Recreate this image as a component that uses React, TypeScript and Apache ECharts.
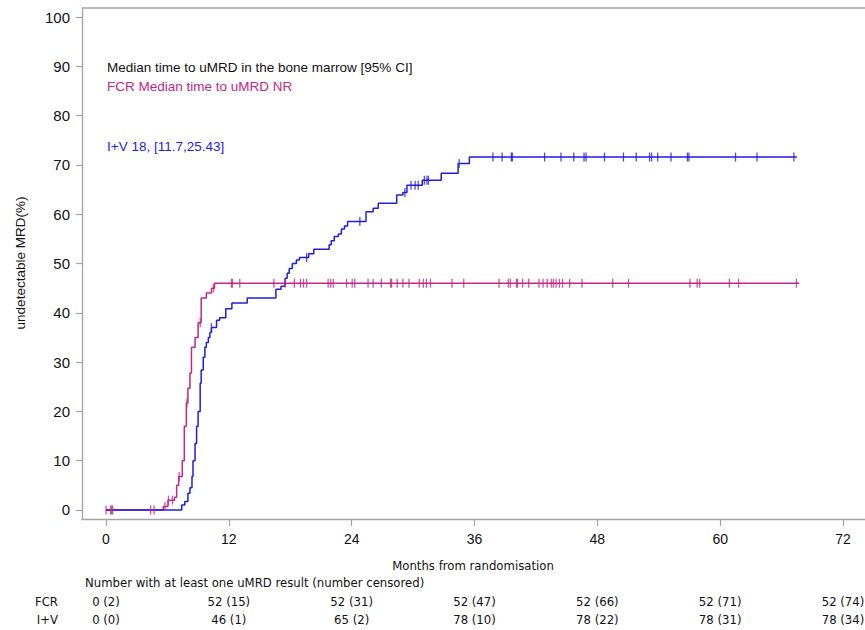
import React, { useEffect, useRef } from "react";
import * as echarts from "echarts";

// ---- Data ----
const xTicks = [0, 12, 24, 36, 48, 60, 72];
const yTicks = [0, 10, 20, 30, 40, 50, 60, 70, 80, 90, 100];

// FCR step curve (time in months, cumulative % uMRD from that time)
const fcrTimes = [0, 5.6, 6.05, 6.7, 6.9, 7.1, 7.45, 7.65, 7.85, 8.0, 8.2, 8.35, 8.7, 9.0, 9.3, 9.8, 10.3, 10.6, 67.7];
const fcrValues = [0, 0.7, 2.0, 2.6, 5.0, 6.8, 10, 17, 21.7, 24.7, 27.8, 33, 35, 38, 43, 44, 45, 46, 46];
const fcrCensor = [0, 0.45, 0.55, 0.65, 4.36, 4.7, 5.76, 6.1, 6.5, 7.15, 7.9, 9.2, 10.5, 12.25, 12.35, 13.07, 16.4, 17.5, 18.4, 19.0, 19.3, 19.6, 21.7, 21.95, 22.2, 23.5, 24.05, 24.3, 25.6, 26.1, 26.9, 27.8, 27.9, 28.45, 29.0, 29.6, 30.6, 31.0, 31.3, 31.7, 33.8, 34.95, 38.4, 39.3, 39.5, 40.1, 40.2, 40.7, 41.3, 42.3, 42.7, 43.1, 43.5, 43.7, 43.97, 44.3, 44.6, 45.3, 46.5, 49.5, 51.05, 57.05, 57.75, 58.0, 60.9, 61.8, 67.45];

// I+V step curve
const ivTimes = [0, 7.4, 7.7, 8.0, 8.2, 8.4, 8.5, 8.7, 8.85, 9.0, 9.2, 9.3, 9.5, 9.66, 9.8, 10.0, 10.15, 10.3, 10.8, 11.1, 11.7, 12.3, 13.8, 16.6, 17.1, 17.5, 17.7, 17.9, 18.2, 18.6, 18.9, 19.8, 20.3, 21.8, 22.0, 22.3, 22.7, 23.0, 23.3, 23.6, 25.4, 26.1, 26.6, 28.4, 29.0, 29.4, 30.9, 32.75, 34.4, 35.5, 67.5];
const ivValues = [0, 1, 1.7, 3.4, 4.5, 6.8, 10, 13.5, 17, 20, 25.7, 28.4, 31, 33, 34, 35, 36, 37, 38.5, 39, 40.8, 42, 43, 44.8, 45.4, 47, 48, 49, 50, 50.7, 51.2, 52, 52.9, 53.8, 54.6, 55.5, 56, 57, 57.6, 58.5, 60.5, 61.2, 62.2, 63.9, 64.4, 65.9, 66.9, 68.3, 70.3, 71.6, 71.6];
const ivCensor = [10.3, 19.6, 24.8, 29.2, 29.8, 30.2, 30.5, 31.1, 31.35, 31.5, 34.5, 37.8, 38.7, 39.6, 39.7, 42.85, 44.45, 45.7, 46.7, 46.9, 48.7, 50.55, 51.8, 53.1, 53.3, 53.9, 55.2, 56.8, 56.95, 61.5, 63.6, 67.2];

// Number at risk table
const fcrNumber = [0, 52, 52, 52, 52, 52, 52];
const fcrCensored = [2, 15, 31, 47, 66, 71, 74];
const ivNumber = [0, 46, 65, 78, 78, 78, 78];
const ivCensored = [0, 1, 2, 10, 22, 31, 34];

const legendLines = [
  "Median time to uMRD in the bone marrow [95% CI]",
  "FCR Median time to uMRD NR",
  "I+V 18, [11.7,25.43]",
];

const MAGENTA = "#C0288A";
const BLUE = "#1E1EE0";
const AXIS = "#a3a3a3";
const FONT = "'Liberation Sans', Arial, sans-serif";
const NARROW = "'Liberation Sans Narrow', 'Arial Narrow', 'DejaVu Sans Condensed', sans-serif";

function stepValue(times: number[], values: number[], t: number) {
  let v = values[0];
  for (let i = 0; i < times.length; i++) {
    if (times[i] <= t) v = values[i];
  }
  return v;
}

export default function App() {
  const ref = useRef<HTMLDivElement>(null);
  useEffect(() => {
    if (!ref.current) return;
    const chart = echarts.init(ref.current, undefined, { renderer: "svg" });
    const censorSeries = (times: number[], vals: number[], cens: number[], color: string) => ({
      type: "scatter",
      data: cens.map((t) => [t, stepValue(times, vals, t)]),
      symbol: "rect",
      symbolSize: [1.3, 9],
      itemStyle: { color },
      z: 5,
    });
    chart.setOption({
      animation: false,
      grid: { left: 82, right: 0, top: 8, bottom: 111 },
      xAxis: {
        type: "value",
        min: -2.345,
        max: 74.15,
        axisLine: { show: true, onZero: false, lineStyle: { color: AXIS, width: 1.3 } },
        axisTick: { show: true, length: 7, customValues: xTicks, lineStyle: { color: AXIS, width: 1.2 } },
        axisLabel: { fontSize: 14, color: "#111", fontFamily: FONT, margin: 13, customValues: xTicks },
        splitLine: { show: false },
      },
      yAxis: {
        type: "value",
        min: -1.826,
        max: 101.83,
        axisLine: { show: true, onZero: false, lineStyle: { color: AXIS, width: 1.3 } },
        axisTick: { show: true, length: 6, customValues: yTicks, lineStyle: { color: AXIS, width: 1.2 } },
        axisLabel: { fontSize: 15, color: "#111", fontFamily: FONT, margin: 12, customValues: yTicks },
        splitLine: { show: false },
      },
      series: [
        {
          type: "line",
          step: "end",
          data: fcrTimes.map((t, i) => [t, fcrValues[i]]),
          showSymbol: false,
          lineStyle: { color: MAGENTA, width: 1.5 },
          z: 2,
        },
        {
          type: "line",
          step: "end",
          data: ivTimes.map((t, i) => [t, ivValues[i]]),
          showSymbol: false,
          lineStyle: { color: BLUE, width: 1.5 },
          z: 3,
        },
        censorSeries(ivTimes, ivValues, ivCensor, BLUE),
        censorSeries(fcrTimes, fcrValues, fcrCensor, MAGENTA),
      ],
    });

    const px = (t: number) => chart.convertToPixel({ xAxisIndex: 0 }, t) as number;
    const txt = (text: string, x: number, y: number, opts: any = {}) => ({
      type: "text",
      x,
      y,
      style: {
        text,
        fill: opts.fill || "#111",
        fontSize: opts.fontSize || 13.5,
        fontFamily: opts.fontFamily || FONT,
        align: opts.align || "left",
        verticalAlign: "middle",
      },
      rotation: opts.rotation || 0,
    });
    const elements: any[] = [
      { type: "line", shape: { x1: 82, y1: 8, x2: 865, y2: 8 }, style: { stroke: AXIS, lineWidth: 1.3 } },
      txt(legendLines[0], 107, 67, { fill: "#111" }),
      txt(legendLines[1], 107, 86, { fill: MAGENTA }),
      txt(legendLines[2], 107, 146, { fill: BLUE }),
      txt("undetectable MRD(%)", 20, 263, { align: "center", rotation: Math.PI / 2, fontSize: 13.5 }),
      txt("Months from randomisation", 473, 565, { align: "center", fontFamily: NARROW, fontSize: 13 }),
      txt("Number with at least one uMRD result (number censored)", 85, 582, { fontFamily: NARROW, fontSize: 13 }),
      txt("FCR", 58, 601, { align: "right", fontFamily: NARROW, fontSize: 13 }),
      txt("I+V", 58, 619, { align: "right", fontFamily: NARROW, fontSize: 13 }),
    ];
    xTicks.forEach((t, i) => {
      const x = px(t);
      elements.push(txt(`${fcrNumber[i]} (${fcrCensored[i]})`, x, 601, { align: "center", fontFamily: NARROW, fontSize: 13 }));
      elements.push(txt(`${ivNumber[i]} (${ivCensored[i]})`, x, 619, { align: "center", fontFamily: NARROW, fontSize: 13 }));
    });
    chart.setOption({ graphic: { elements } });
    return () => chart.dispose();
  }, []);
  return (
    <div
      ref={ref}
      style={{ position: "fixed", left: 0, top: 0, width: 865, height: 630, background: "#fff" }}
    />
  );
}
